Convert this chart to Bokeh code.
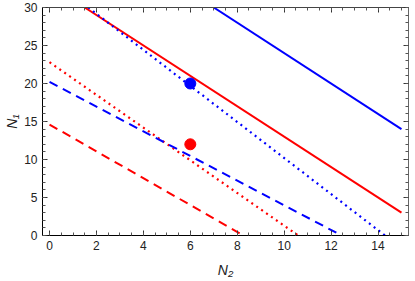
from bokeh.plotting import figure
from bokeh.models import LinearAxis, SingleIntervalTicker, Range1d, CustomJSTickFormatter
from bokeh.embed import file_html
from bokeh.resources import INLINE

# data
blue_solid_n2 = [7, 15]
blue_solid_n1 = [30, 14]
red_solid_n2 = [1.5, 15]
red_solid_n1 = [30, 3]
blue_dotted_n2 = [1.65, 14.3]
blue_dotted_n1 = [30, 0]
red_dotted_n2 = [0, 10.6]
red_dotted_n1 = [22.8, 0]
blue_dashed_n2 = [0, 12.45]
blue_dashed_n1 = [20.2, 0]
red_dashed_n2 = [0, 8.27]
red_dashed_n1 = [14.6, 0]
point_n2 = [6, 6]
point_n1 = [20, 12]
point_colors = ["#0000FF", "#FF0000"]
x_ticks_major = 2
y_ticks_major = 5

BLUE = "#0000FF"
RED = "#FF0000"

p = figure(width=415, height=281, output_backend="svg", toolbar_location=None,
           x_range=Range1d(-0.3, 15.3), y_range=Range1d(0, 30),
           x_axis_location=None, y_axis_location=None,
           min_border_left=42, min_border_right=7, min_border_top=7, min_border_bottom=46)
p.grid.visible = False
p.outline_line_color = None
p.background_fill_color = "white"

def style_axis(ax, labels=True):
    ax.axis_line_color = "black"
    ax.axis_line_width = 1
    ax.major_tick_in = 5
    ax.major_tick_out = 0
    ax.minor_tick_in = 3
    ax.minor_tick_out = 0
    ax.major_tick_line_color = "#333333"
    ax.minor_tick_line_color = "#555555"
    if labels:
        ax.major_label_text_font = "Liberation Sans"
        ax.major_label_text_font_size = "12px"
        ax.major_label_text_color = "#222222"
        ax.major_label_standoff = 5
    else:
        ax.formatter = CustomJSTickFormatter(code="return ''")
        ax.major_label_standoff = 0

xb = LinearAxis(ticker=SingleIntervalTicker(interval=x_ticks_major, num_minor_ticks=4))
style_axis(xb)
xb.axis_label = "N₂"
xb.axis_label_text_font = "Liberation Sans"
xb.axis_label_text_font_style = "italic"
xb.axis_label_text_font_size = "14px"
xb.axis_label_text_color = "#222222"
xb.axis_label_standoff = 9
p.add_layout(xb, "below")

yl = LinearAxis(ticker=SingleIntervalTicker(interval=y_ticks_major, num_minor_ticks=5))
style_axis(yl)
yl.axis_label = "N₁"
yl.axis_label_text_font = "Liberation Sans"
yl.axis_label_text_font_style = "italic"
yl.axis_label_text_font_size = "14px"
yl.axis_label_text_color = "#222222"
yl.axis_label_standoff = 1
p.add_layout(yl, "left")

xt = LinearAxis(ticker=SingleIntervalTicker(interval=x_ticks_major, num_minor_ticks=4))
style_axis(xt, labels=False)
xt.axis_line_color = "#444444"
p.add_layout(xt, "above")

yr = LinearAxis(ticker=SingleIntervalTicker(interval=y_ticks_major, num_minor_ticks=5))
style_axis(yr, labels=False)
yr.axis_line_color = "#666666"
p.add_layout(yr, "right")

p.line(blue_solid_n2, blue_solid_n1, line_color=BLUE, line_width=2)
p.line(red_solid_n2, red_solid_n1, line_color=RED, line_width=2)
p.line(blue_dotted_n2, blue_dotted_n1, line_color=BLUE, line_width=2.2, line_dash="2 4")
p.line(red_dotted_n2, red_dotted_n1, line_color=RED, line_width=2.2, line_dash="2 4")
p.line(blue_dashed_n2, blue_dashed_n1, line_color=BLUE, line_width=2, line_dash="9 6")
p.line(red_dashed_n2, red_dashed_n1, line_color=RED, line_width=2, line_dash="9 6")
p.scatter(point_n2, point_n1, size=11, fill_color=point_colors, line_color=point_colors)

open("out.html", "w").write(file_html(p, INLINE))
